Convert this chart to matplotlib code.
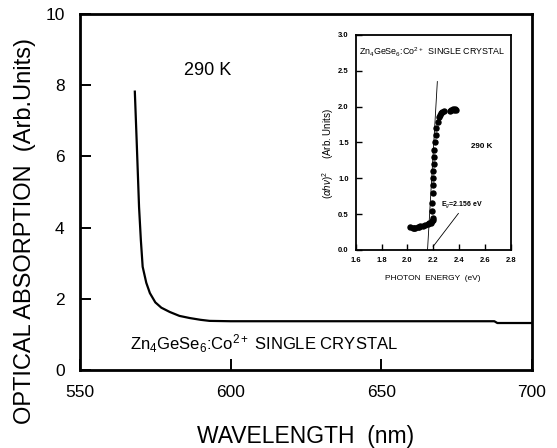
import matplotlib
matplotlib.use('Agg')
import matplotlib.pyplot as plt

plt.rcParams['font.family'] = ['Liberation Sans', 'DejaVu Sans']
plt.rcParams['mathtext.fontset'] = 'custom'
plt.rcParams['mathtext.rm'] = 'Liberation Sans'
plt.rcParams['mathtext.it'] = 'Liberation Sans:italic'
plt.rcParams['mathtext.bf'] = 'Liberation Sans:bold'

# main absorption spectrum
wavelength = [568.2, 568.8, 569.6, 570.2, 570.8, 572.0, 573.2, 575.0, 577.0, 579.8,
              583.0, 586.4, 590.0, 593.0, 600.0, 620.0, 650.0, 687.5, 688.5, 700.0]
absorption = [7.82, 6.46, 4.58, 3.65, 2.90, 2.45, 2.16, 1.90, 1.75, 1.63,
              1.52, 1.46, 1.41, 1.38, 1.37, 1.37, 1.37, 1.37, 1.32, 1.32]

# inset: (alpha h nu)^2 vs photon energy
energy = [2.02, 2.04, 2.05, 2.06, 2.08, 2.09, 2.10, 2.12, 2.14, 2.16, 2.17, 2.18, 2.19,
          2.20, 2.20, 2.19, 2.19, 2.195, 2.195, 2.20, 2.20, 2.205, 2.21, 2.21, 2.215,
          2.22, 2.225, 2.235, 2.245, 2.25, 2.26, 2.27, 2.28,
          2.33, 2.34, 2.35, 2.36, 2.37, 2.38]
ahv2 = [0.32, 0.30, 0.31, 0.31, 0.32, 0.32, 0.33, 0.34, 0.35, 0.36, 0.37, 0.38, 0.40,
        0.42, 0.45, 0.55, 0.65, 0.80, 0.90, 1.00, 1.10, 1.20, 1.30, 1.40, 1.50,
        1.60, 1.70, 1.78, 1.85, 1.88, 1.91, 1.93, 1.94,
        1.94, 1.95, 1.96, 1.95, 1.96, 1.95]
fit_energy = [2.156, 2.232]
fit_ahv2 = [0.0, 2.35]

fig = plt.figure(figsize=(5.57, 4.48), dpi=100)
ax = fig.add_axes([0.1436, 0.1741, 0.8115, 0.7946])
ax.plot(wavelength, absorption, color='black', linewidth=1.6)
ax.set_xlim(550, 700)
ax.set_ylim(0, 10)
ax.set_xticks([550, 600, 650, 700])
ax.set_yticks([0, 2, 4, 6, 8, 10])
ax.tick_params(direction='in', length=8, width=1.4, labelsize=12.5, pad=11,
               color='black')
for s in ax.spines.values():
    s.set_linewidth(2.0)
    s.set_color('black')
    s.set_zorder(5)
ax.set_xlabel('WAVELENGTH  (nm)', fontsize=16.5, labelpad=18)
ax.set_ylabel('OPTICAL ABSORPTION  (Arb.Units)', fontsize=17)
ax.yaxis.set_label_coords(-0.098, 0.39)
ax.text(592.4, 8.4, '290 K', fontsize=13, ha='center', va='center')
ax.text(566.5, 0.75, r'Zn$_4$GeSe$_6$:Co$^{2+}$ SINGLE CRYSTAL', fontsize=12,
        ha='left', va='center')

# inset
ins = fig.add_axes([0.6386, 0.442, 0.2783, 0.48])
ins.plot(energy, ahv2, 'o', color='black', markersize=3.6)
ins.plot(fit_energy, fit_ahv2, color='black', linewidth=0.6)
ins.plot([2.395, 2.20], [0.51, 0.05], color='black', linewidth=0.6)
ins.set_xlim(1.6, 2.8)
ins.set_ylim(0, 3.0)
ins.set_xticks([1.6, 1.8, 2.0, 2.2, 2.4, 2.6, 2.8])
ins.set_yticks([0.0, 0.5, 1.0, 1.5, 2.0, 2.5, 3.0])
ins.tick_params(direction='in', length=4, width=1, labelsize=5.5, pad=5)
for s in ins.spines.values():
    s.set_linewidth(1.3)
for lab in ins.get_xticklabels() + ins.get_yticklabels():
    lab.set_fontweight('bold')
ins.set_xlabel('PHOTON  ENERGY  (eV)', fontsize=6, labelpad=8)
ins.set_ylabel(r'$(\alpha h\nu)^2$     (Arb. Units)', fontsize=7)
ins.yaxis.set_label_coords(-0.125, 0.447)
ins.text(1.625, 2.75, r'Zn$_4$GeSe$_6$:Co$^{2+}$  SINGLE CRYSTAL', fontsize=6.4,
         ha='left', va='center')
ins.text(2.575, 1.44, '290 K', fontsize=5.8, fontweight='bold', ha='center', va='center')
ins.text(2.26, 0.64, r'E$_g$=2.156 eV', fontsize=5, fontweight='bold', ha='left', va='center')

fig.savefig('out.png', dpi=100)
